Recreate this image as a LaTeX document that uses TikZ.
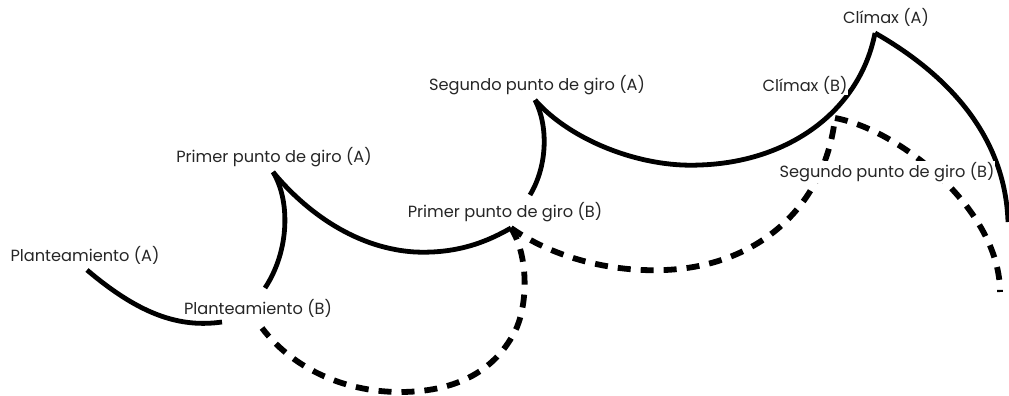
\documentclass[tikz,border=0pt]{standalone}
\usepackage{fontspec}
\setmainfont{Poppins}
\begin{document}
\begin{tikzpicture}[x=1pt,y=-1pt,
  lbl/.style={font=\fontsize{16.2}{18}\selectfont, inner sep=1pt, fill=white, text=black!85},
  arcA/.style={line width=4.8pt, black},
  arcB/.style={line width=5.8pt, black, dash pattern=on 13pt off 10pt}]
\useasboundingbox (0,0) rectangle (1009,396);

% turning points
\coordinate (pa)  at (87,270);
\coordinate (pae) at (222,322);
\coordinate (pb)  at (265,288);
\coordinate (pb2) at (262,328);
\coordinate (ga1) at (273,172);
\coordinate (gb1) at (511,228);
\coordinate (ga2s) at (530,195);
\coordinate (ga2) at (535,100);
\coordinate (cb)  at (835,118);
\coordinate (ca)  at (875,33);
\coordinate (enda) at (1008,222);
\coordinate (endb) at (1000,292);

% story line B (dashed), drawn first so labels cover it
\draw[arcB] (gb1) .. controls (528,255) and (528,300) .. (517,327)
                 .. controls (495,375) and (450,392) .. (400,392)
                 .. controls (340,392) and (290,365) .. (pb2);
\draw[arcB] (gb1) .. controls (560,262) and (620,272) .. (665,270)
                 .. controls (760,266) and (825,205) .. (cb);
\draw[arcB] (cb) .. controls (900,130) and (1000,210) .. (endb);

% story line A (solid)
\draw[arcA] (pa) .. controls (140,315) and (180,328) .. (pae);
\draw[arcA] (pb) .. controls (290,250) and (290,200) .. (ga1);
\draw[arcA] (ga1) .. controls (300,205) and (350,248) .. (415,252)
                  .. controls (460,254) and (490,240) .. (gb1);
\draw[arcA] (ga2s) .. controls (548,165) and (548,125) .. (ga2);
\draw[arcA] (ga2) .. controls (570,140) and (640,168) .. (700,165)
                  .. controls (790,162) and (860,110) .. (ca);
\draw[arcA] (ca) .. controls (940,70) and (1005,130) .. (enda);

% labels
\node[lbl] (lpa)  at (85,255)  {Planteamiento (A)};
\node[lbl] (lpb)  at (258,308) {Planteamiento (B)};
\node[lbl] (lga1) at (274,157) {Primer punto de giro (A)};
\node[lbl] (lgb1) at (505,212) {Primer punto de giro (B)};
\node[lbl] (lga2) at (537,85)  {Segundo punto de giro (A)};
\node[lbl] (lca)  at (886,17)  {Clímax (A)};
\node[lbl] (lcb)  at (805,85)  {Clímax (B)};
\node[lbl] (lgb2) at (887,172) {Segundo punto de giro (B)};
\end{tikzpicture}
\end{document}
